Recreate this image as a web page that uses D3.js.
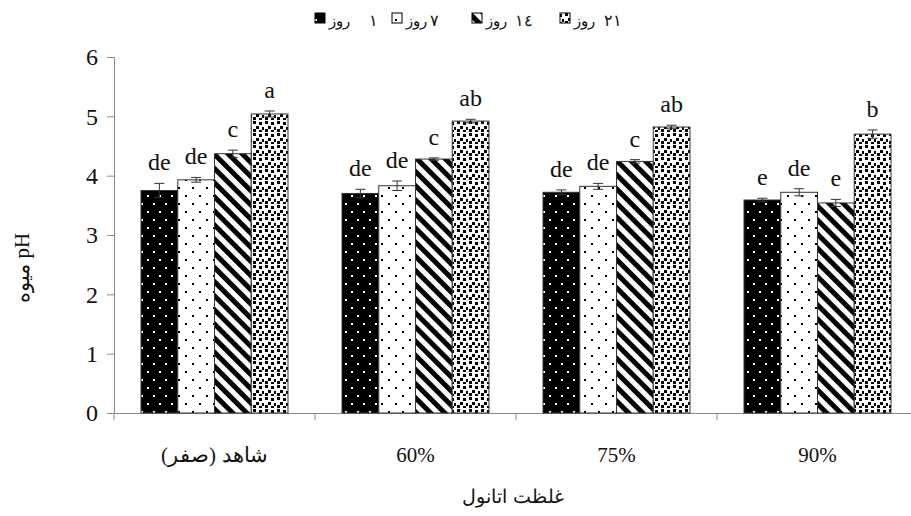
<!DOCTYPE html>
<html><head><meta charset="utf-8">
<script src="https://cdn.jsdelivr.net/npm/d3@7"></script>
<style>body{margin:0;background:#fff}svg{display:block}</style>
</head><body>
<svg id="c" width="911" height="516"></svg>
<script>
const categories = ["شاهد (صفر)", "60%", "75%", "90%"];
const series = ["١", "٧", "١٤", "٢١"];
const values = [
  [3.75, 3.93, 4.37, 5.04],
  [3.70, 3.83, 4.28, 4.92],
  [3.72, 3.82, 4.24, 4.82],
  [3.59, 3.72, 3.54, 4.70]
];
const errors = [
  [0.12, 0.04, 0.06, 0.05],
  [0.07, 0.08, 0.02, 0.03],
  [0.04, 0.05, 0.03, 0.03],
  [0.03, 0.06, 0.06, 0.07]
];
const letters = [
  ["de", "de", "c", "a"],
  ["de", "de", "c", "ab"],
  ["de", "de", "c", "ab"],
  ["e", "de", "e", "b"]
];
const yTicks = [0, 1, 2, 3, 4, 5, 6];
const yTitle = "pH میوه";
const xTitle = "غلظت اتانول";
const FONT = "Liberation Serif";

const svg = d3.select("#c");
const defs = svg.append("defs");

// write words as separate texts so that their visual order is fixed (right-to-left for Persian)
function words(parent, str, cx, yb, size, order) {
  const g = parent.append("g");
  const parts = str.split(" ");
  const seq = order === "rev" ? parts.slice().reverse() : parts;
  const ts = seq.map(w => g.append("text").attr("y", yb).attr("font-family", FONT)
    .attr("font-size", size).attr("fill", "#111").text(w));
  const gap = size * 0.28;
  const ws = ts.map(t => t.node().getComputedTextLength());
  const total = d3.sum(ws) + gap * (ws.length - 1);
  let x = cx - total / 2;
  ts.forEach((t, i) => { t.attr("x", x); x += ws[i] + gap; });
  return g;
}

// patterns
function pat(id, w, h) {
  return defs.append("pattern").attr("id", id).attr("patternUnits", "userSpaceOnUse")
    .attr("width", w).attr("height", h);
}
let p0 = pat("p0", 12, 16);
p0.append("rect").attr("width", 12).attr("height", 16).attr("fill", "#000");
[[3,3],[9,11]].forEach(d => p0.append("rect").attr("x", d[0]).attr("y", d[1]).attr("width", 2).attr("height", 2).attr("fill", "#fff"));
let p1 = pat("p1", 14, 16);
p1.append("rect").attr("width", 14).attr("height", 16).attr("fill", "#fff");
[[3,3],[10,11]].forEach(d => p1.append("rect").attr("x", d[0]).attr("y", d[1]).attr("width", 2).attr("height", 2).attr("fill", "#000"));
let p2 = pat("p2", 10, 10).attr("patternTransform", "rotate(-45)");
p2.append("rect").attr("width", 10).attr("height", 10).attr("fill", "#fff");
p2.append("rect").attr("width", 5).attr("height", 10).attr("fill", "#000");
let p3 = pat("p3", 12, 12);
p3.append("rect").attr("width", 12).attr("height", 12).attr("fill", "#fff");
[[1,1],[7,2],[4,6],[10,7],[1,9],[7,10]].forEach(d => p3.append("rect").attr("x", d[0]).attr("y", d[1]).attr("width", 3).attr("height", 3).attr("fill", "#000"));
const fills = ["url(#p0)", "url(#p1)", "url(#p2)", "url(#p3)"];

const y = d3.scaleLinear().domain([0, 6]).range([413, 57]);
const x0 = d3.scaleBand().domain(categories).range([114, 918]);
const x1 = d3.scaleBand().domain(series).range([0, x0.bandwidth()]).paddingOuter(0.735);

// y axis
const ya = svg.append("g").attr("transform", "translate(114,0)")
  .call(d3.axisLeft(y).tickValues(yTicks).tickSize(7).tickPadding(9).tickFormat(d3.format("d")));
ya.attr("font-family", FONT);
ya.select(".domain").attr("stroke", "#8c8c8c");
ya.selectAll(".tick line").attr("stroke", "#8c8c8c");
ya.selectAll(".tick text").attr("font-family", FONT).attr("font-size", 24).attr("fill", "#111");

// x axis
const xa = svg.append("g").attr("transform", "translate(0,413)")
  .call(d3.axisBottom(x0).tickSize(0).tickFormat(""));
xa.select(".domain").attr("stroke", "#8c8c8c");
xa.selectAll(".bnd").data(categories).enter().append("line")
  .attr("x1", d => x0(d)).attr("x2", d => x0(d)).attr("y1", 0).attr("y2", 7)
  .attr("stroke", "#8c8c8c");
categories.forEach(c => words(svg, c, x0(c) + x0.bandwidth() / 2, 462, 21, "rev"));

// bars
const g = svg.append("g");
categories.forEach((c, ci) => {
  series.forEach((s, si) => {
    const v = values[ci][si], e = errors[ci][si];
    const bx = x0(c) + x1(s), bw = x1.bandwidth(), cx = bx + bw / 2;
    g.append("rect").attr("x", bx).attr("y", y(v)).attr("width", bw).attr("height", y(0) - y(v))
      .attr("fill", fills[si]).attr("stroke", "#333").attr("stroke-width", 1);
    g.append("line").attr("x1", cx).attr("x2", cx).attr("y1", y(v - e)).attr("y2", y(v + e)).attr("stroke", "#333");
    [v - e, v + e].forEach(t => g.append("line").attr("x1", cx - 5).attr("x2", cx + 5)
      .attr("y1", y(t)).attr("y2", y(t)).attr("stroke", "#333"));
    g.append("text").attr("x", cx).attr("y", y(v + e) - 13).attr("text-anchor", "middle")
      .attr("font-family", FONT).attr("font-size", 24).attr("fill", "#111").text(letters[ci][si]);
  });
});

// axis titles
const yt = svg.append("g").attr("transform", "translate(29,268) rotate(-90)");
words(yt, yTitle, 0, 0, 21, "rev");
words(svg, xTitle, 513, 503, 19, "rev");

// legend
const legX = [315, 392, 472, 560];
const numX = [373, 434, 524, 613];
const lg = svg.append("g");
series.forEach((s, i) => {
  lg.append("rect").attr("x", legX[i]).attr("y", 13).attr("width", 10).attr("height", 10)
    .attr("fill", fills[i]).attr("stroke", "#000");
  lg.append("text").attr("x", legX[i] + 14).attr("y", 26).attr("font-family", FONT)
    .attr("font-size", 15).attr("fill", "#111").text("روز");
  lg.append("text").attr("x", numX[i]).attr("y", 26).attr("font-family", FONT).attr("font-size", 16)
    .attr("fill", "#111").attr("text-anchor", "middle").text(s);
});
</script>
</body></html>
